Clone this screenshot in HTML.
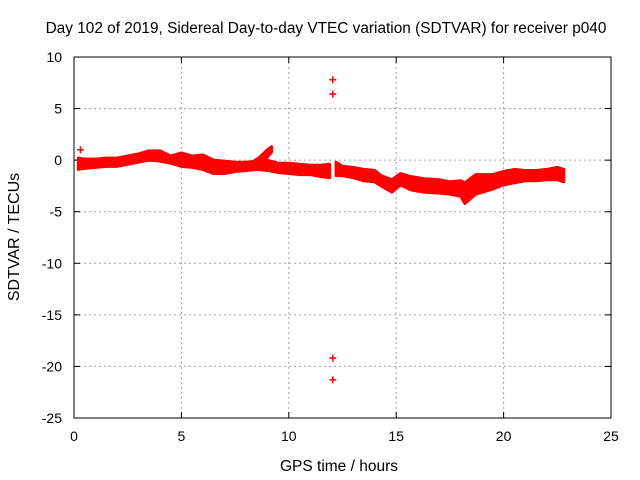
<!DOCTYPE html>
<html><head><meta charset="utf-8"><style>
body{margin:0;background:#fff}
svg{display:block;font-family:"Liberation Sans",sans-serif;font-size:14px}
</style></head><body>
<svg id="c" width="640" height="480">
<text x="326" y="33" text-anchor="middle" style="font-size:15.4px">Day 102 of 2019, Sidereal Day-to-day VTEC variation (SDTVAR) for receiver p040</text>
<text x="339" y="471" text-anchor="middle" style="font-size:15.5px">GPS time / hours</text>
<text transform="translate(19,237) rotate(-90)" text-anchor="middle" style="font-size:16px">SDTVAR / TECUs</text>
<g id="grid"></g><g id="ticks"></g><g id="marks"></g>
<rect x="74" y="57" width="537" height="361" fill="none" stroke="#000"/>
</svg>
<script>
const xTicks=[0,5,10,15,20,25];
const yTicks=[10,5,0,-5,-10,-15,-20,-25];
const bandT=[0.2,0.5,1,1.5,2,2.5,3,3.5,4,4.5,5,5.5,6,6.5,7,7.5,8,8.5,9,9.5,10,10.5,11,11.5,11.9];
const bandHi=[0.2,0.1,0.1,0.2,0.2,0.4,0.6,0.9,0.9,0.4,0.7,0.4,0.5,0.0,-0.1,-0.2,-0.2,-0.1,0.0,-0.3,-0.3,-0.4,-0.5,-0.5,-0.4];
const bandLo=[-0.9,-0.8,-0.7,-0.6,-0.6,-0.4,-0.2,0.0,-0.1,-0.3,-0.6,-0.7,-0.9,-1.3,-1.3,-1.1,-1.0,-0.9,-1.0,-1.2,-1.3,-1.4,-1.4,-1.6,-1.7];
const band2T=[12.2,12.5,13,13.5,14,14.3,14.8,15.2,15.7,16.3,17,17.5,18,18.2,18.7,19.5,20,20.5,21,21.5,22,22.5,22.8];
const band2Hi=[-0.2,-0.6,-0.7,-0.9,-1.0,-1.5,-1.9,-1.3,-1.6,-1.8,-1.9,-2.1,-2.0,-2.2,-1.4,-1.4,-1.1,-0.9,-1.0,-1.0,-0.9,-0.7,-0.9];
const band2Lo=[-1.5,-1.5,-1.7,-2.0,-2.1,-2.5,-3.1,-2.4,-2.9,-3.1,-3.2,-3.3,-3.5,-4.2,-3.3,-2.8,-2.4,-2.2,-2.0,-2.0,-1.9,-1.9,-2.1];
const branchT=[8.2,8.6,9.0,9.2];
const branchHi=[-0.3,0.2,1.0,1.3];
const branchLo=[-0.9,-0.5,0.3,0.8];
const outT=[0.3,12.05,12.05,12.05,12.05];
const outV=[1.0,7.8,6.4,-19.2,-21.3];
const X=v=>74+v*537/25, Y=v=>57+(10-v)*361/35;
const NS='http://www.w3.org/2000/svg';
function mk(tag,at,parent){const e=document.createElementNS(NS,tag);for(const k in at)e.setAttribute(k,at[k]);document.getElementById(parent).appendChild(e);return e;}
xTicks.forEach(t=>{
 if(t>0&&t<25){const g=mk('line',{x1:X(t),x2:X(t),y1:57,y2:418,stroke:'#a0a0a0','stroke-dasharray':'2,3'},'grid');
 
 }
 const l=mk('text',{x:X(t),y:441,'text-anchor':'middle'},'ticks');l.textContent=t;
 
 
 mk('line',{x1:X(t),x2:X(t),y1:418,y2:412,stroke:'#000'},'ticks');mk('line',{x1:X(t),x2:X(t),y1:57,y2:63,stroke:'#000'},'ticks');
});
yTicks.forEach(t=>{
 if(t<10&&t>-25){const g=mk('line',{x1:74,x2:611,y1:Y(t),y2:Y(t),stroke:'#a0a0a0','stroke-dasharray':'2,3'},'grid');
 
 }
 const l=mk('text',{x:62,y:Y(t)+5,'text-anchor':'end'},'ticks');l.textContent=t;
 
 
 mk('line',{x1:74,x2:80,y1:Y(t),y2:Y(t),stroke:'#000'},'ticks');mk('line',{x1:611,x2:605,y1:Y(t),y2:Y(t),stroke:'#000'},'ticks');
});
function band(T,H,L,name){
 let p=T.map((t,i)=>X(t)+','+Y(H[i]));
 p=p.concat(T.map((t,i)=>X(t)+','+Y(L[i])).reverse());
 const e=mk('polygon',{points:p.join(' '),fill:'#f00',stroke:'#f00','stroke-width':3,'stroke-linejoin':'round'},'marks');
 
 
}
band(bandT,bandHi,bandLo,'sdtvar-band-1');
band(band2T,band2Hi,band2Lo,'sdtvar-band-2');
band(branchT,branchHi,branchLo,'sdtvar-branch');
outT.forEach((t,i)=>{
 const x=X(t),y=Y(outV[i]);
 const e=mk('path',{d:`M${x-3.5},${y}H${x+3.5}M${x},${y-3.5}V${y+3.5}`,stroke:'#f00','stroke-width':1.5},'marks');
 
 
});
</script>
</body></html>
